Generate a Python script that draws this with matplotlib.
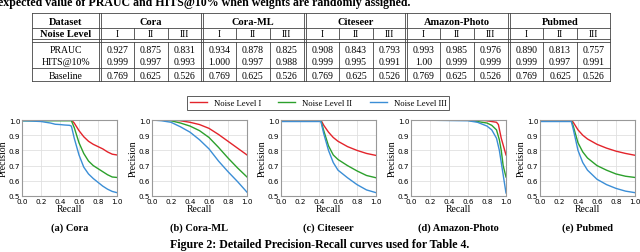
import numpy as np
import matplotlib.pyplot as plt

# ---- table data ----
datasets = ['Cora', 'Cora-ML', 'Citeseer', 'Amazon-Photo', 'Pubmed']
levels = ['I', 'II', 'III']
prauc = ['0.927', '0.875', '0.831', '0.934', '0.878', '0.825', '0.908', '0.843', '0.793',
         '0.993', '0.985', '0.976', '0.890', '0.813', '0.757']
hits = ['0.999', '0.997', '0.993', '1.000', '0.997', '0.988', '0.999', '0.995', '0.991',
        '1.00', '0.999', '0.999', '0.999', '0.997', '0.991']
baseline = ['0.769', '0.625', '0.526'] * 5

# ---- PR curves (recall, precision) ----
cora_r = [0.0, 0.52, 0.55, 0.6, 0.65, 0.7, 0.75, 0.8, 0.85, 0.9, 0.95, 1.0]
cora_1 = [1.0, 1.0, 0.98, 0.93, 0.89, 0.86, 0.84, 0.825, 0.81, 0.79, 0.775, 0.77]
cora_2 = [0.995, 0.995, 0.95, 0.85, 0.78, 0.73, 0.70, 0.68, 0.66, 0.64, 0.625, 0.622]
cora_r3 = [0.0, 0.1, 0.2, 0.3, 0.35, 0.4, 0.45, 0.5, 0.52, 0.55, 0.6, 0.65, 0.7, 0.75, 0.8, 0.85, 0.9, 0.95, 1.0]
cora_3 = [0.995, 0.993, 0.99, 0.98, 0.972, 0.97, 0.967, 0.965, 0.96, 0.88, 0.77, 0.69, 0.645, 0.615,
          0.59, 0.565, 0.545, 0.53, 0.522]

coraml_r = [0.0, 0.1, 0.2, 0.3, 0.4, 0.5, 0.6, 0.7, 0.8, 0.9, 1.0]
coraml_1 = [1.0, 1.0, 1.0, 0.995, 0.985, 0.97, 0.945, 0.905, 0.86, 0.815, 0.77]
coraml_2 = [1.0, 0.999, 0.995, 0.98, 0.96, 0.93, 0.885, 0.82, 0.75, 0.685, 0.625]
coraml_3 = [1.0, 0.995, 0.985, 0.955, 0.92, 0.87, 0.81, 0.73, 0.66, 0.595, 0.525]

cite_r = [0.0, 0.42, 0.45, 0.5, 0.55, 0.6, 0.7, 0.8, 0.9, 1.0]
cite_1 = [1.0, 1.0, 0.965, 0.92, 0.885, 0.86, 0.825, 0.80, 0.78, 0.767]
cite_2 = [0.995, 0.995, 0.93, 0.83, 0.77, 0.74, 0.70, 0.665, 0.635, 0.62]
cite_3 = [0.99, 0.99, 0.91, 0.80, 0.72, 0.67, 0.62, 0.575, 0.54, 0.522]

amz_r1 = [0.0, 0.7, 0.8, 0.9, 0.92, 0.95, 1.0]
amz_1 = [1.0, 1.0, 0.995, 0.985, 0.97, 0.88, 0.77]
amz_r = [0.0, 0.6, 0.7, 0.8, 0.85, 0.9, 0.93, 0.95, 0.97, 1.0]
amz_2 = [1.0, 0.998, 0.99, 0.98, 0.965, 0.935, 0.87, 0.80, 0.70, 0.625]
amz_3 = [1.0, 0.995, 0.985, 0.96, 0.935, 0.88, 0.80, 0.72, 0.64, 0.52]

pub_r = [0.0, 0.33, 0.35, 0.4, 0.45, 0.5, 0.6, 0.7, 0.8, 0.9, 1.0]
pub_1 = [1.0, 1.0, 0.985, 0.935, 0.90, 0.875, 0.84, 0.815, 0.795, 0.78, 0.768]
pub_2 = [0.995, 0.995, 0.96, 0.85, 0.79, 0.75, 0.70, 0.67, 0.645, 0.63, 0.622]
pub_3 = [0.99, 0.99, 0.94, 0.80, 0.72, 0.67, 0.61, 0.575, 0.55, 0.532, 0.522]

curves = [
    [(cora_r, cora_1), (cora_r, cora_2), (cora_r3, cora_3)],
    [(coraml_r, coraml_1), (coraml_r, coraml_2), (coraml_r, coraml_3)],
    [(cite_r, cite_1), (cite_r, cite_2), (cite_r, cite_3)],
    [(amz_r1, amz_1), (amz_r, amz_2), (amz_r, amz_3)],
    [(pub_r, pub_1), (pub_r, pub_2), (pub_r, pub_3)],
]
captions = ['(a) Cora', '(b) Cora-ML', '(c) Citeseer', '(d) Amazon-Photo', '(e) Pubmed']
legend_labels = ['Noise Level I', 'Noise Level II', 'Noise Level III']
colors = ['#e3242b', '#2ca02c', '#3b8ed6']

W, H = 640, 253
fig = plt.figure(figsize=(W / 100, H / 100), dpi=100)
serif = 'Liberation Serif'

# overlay in pixel coordinates for the table and captions
ov = fig.add_axes([0, 0, 1, 1])
ov.set_xlim(0, W)
ov.set_ylim(H, 0)
ov.axis('off')

ov.text(-2, 3.3, 'expected value of PRAUC and HITS@10% when weights are randomly assigned.',
        fontsize=8.6, fontweight='bold', family=serif, ha='left', va='center')

# table geometry
x0, xd, x_end = 32, 100, 610
block_starts = [101, 203, 306, 407, 510]
block_w = 100
hl = dict(color='#444444', lw=0.6)
ov.plot([x0, x_end], [14, 14], **hl)
ov.plot([x0, x_end], [29, 29], **hl)
ov.plot([x0, x_end], [40, 40], **hl)
ov.plot([x0, x_end], [42.5, 42.5], **hl)
ov.plot([x0, x_end], [69, 69], **hl)
ov.plot([x0, x_end], [82, 82], **hl)
ov.plot([x0, x0], [14, 82], **hl)
ov.plot([x_end, x_end], [14, 82], **hl)
for b in block_starts:
    ov.plot([b - 2, b - 2], [14, 82], **hl)
    ov.plot([b, b], [14, 82], **hl)
    for k in (1, 2):
        ov.plot([b + k * block_w / 3] * 2, [29, 40], **hl)
        ov.plot([b + k * block_w / 3] * 2, [42.5, 82], **hl)

cx = (x0 + xd - 1) / 2
ov.text(cx, 22, 'Dataset', fontsize=7.5, fontweight='bold', family=serif, ha='center', va='center')
ov.text(cx, 34.5, 'Noise Level', fontsize=7.5, fontweight='bold', family=serif, ha='center', va='center')
ov.text(cx, 50, 'PRAUC', fontsize=7, family=serif, ha='center', va='center')
ov.text(cx, 62, 'HITS@10%', fontsize=7, family=serif, ha='center', va='center')
ov.text(cx, 76, 'Baseline', fontsize=7, family=serif, ha='center', va='center')
for i, (name, b) in enumerate(zip(datasets, block_starts)):
    ov.text(b + block_w / 2, 22, name, fontsize=7.5, fontweight='bold', family=serif,
            ha='center', va='center')
    for j in range(3):
        c = b + (j + 0.5) * block_w / 3
        ov.text(c, 34.5, levels[j], fontsize=7, family=serif, ha='center', va='center')
        ov.text(c, 50, prauc[3 * i + j], fontsize=7, family=serif, ha='center', va='center')
        ov.text(c, 62, hits[3 * i + j], fontsize=7, family=serif, ha='center', va='center')
        ov.text(c, 76, baseline[3 * i + j], fontsize=7, family=serif, ha='center', va='center')

# PR subplots
lefts = [22, 152, 281, 411, 540]
aw, top, bot = 95, 121, 197
handles = []
for k, left in enumerate(lefts):
    ax = fig.add_axes([left / W, (H - bot) / H, aw / W, (bot - top) / H])
    for (r, p), col in zip(curves[k], colors):
        ln, = ax.plot(r, p, color=col, lw=1.0)
        if k == 0:
            handles.append(ln)
    ax.set_xlim(0, 1)
    ax.set_ylim(0.5, 1.0)
    ax.set_xticks(np.arange(0, 1.01, 0.2))
    ax.set_yticks(np.arange(0.5, 1.01, 0.1))
    ax.grid(color='#e0e0e0', lw=0.6)
    ax.set_axisbelow(True)
    for s in ax.spines.values():
        s.set_color('#999999')
        s.set_linewidth(0.8)
    ax.tick_params(labelsize=5.2, length=0, pad=1.2)
    ax.set_xlabel('Recall', family=serif, fontsize=7, labelpad=0)
    ax.set_ylabel('Precision', family=serif, fontsize=7, labelpad=0.5)
    ov.text(left + aw / 2, 228, captions[k], fontsize=7.5, fontweight='bold', family=serif,
            ha='center', va='center')

ov.text(320, 245, 'Figure 2: Detailed Precision-Recall curves used for Table 4.',
        fontsize=8.6, fontweight='bold', family=serif, ha='center', va='center')

leg = fig.legend(handles, legend_labels, loc='center', bbox_to_anchor=(318 / W, (H - 104) / H),
                 ncol=3, frameon=True, fancybox=False, prop={'family': serif, 'size': 6.2},
                 handlelength=2.0, columnspacing=2.0, borderpad=0.3, handletextpad=0.8)
leg.get_frame().set_edgecolor('#333333')
leg.get_frame().set_linewidth(0.7)

fig.savefig('out.png', dpi=100)
